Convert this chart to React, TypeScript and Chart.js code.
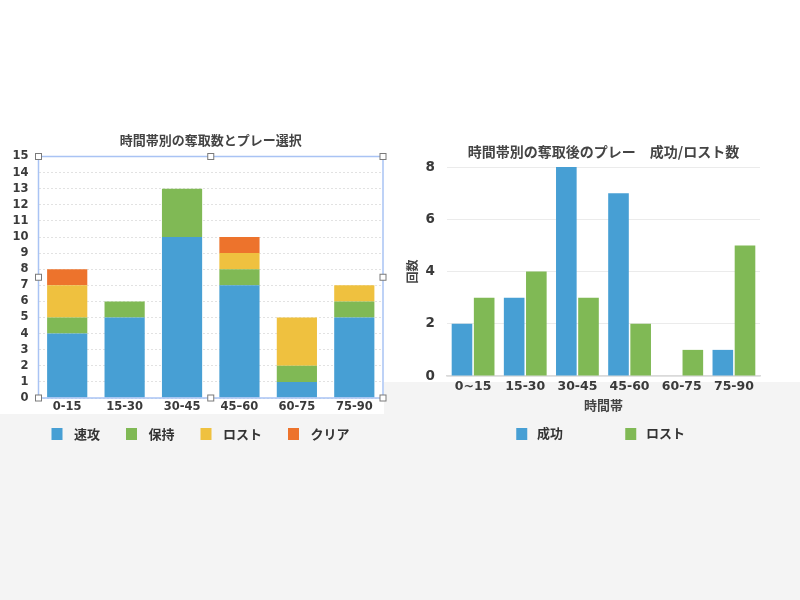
import React, { useEffect, useRef } from 'react';
import { Chart, registerables } from 'chart.js';

Chart.register(...registerables);

// ---------- data ----------
const leftTitle = '時間帯別の奪取数とプレー選択';
const leftCategories = ['0-15', '15-30', '30-45', '45–60', '60-75', '75-90'];
const leftSeriesNames = ['速攻', '保持', 'ロスト', 'クリア'];
const sokkou = [4, 5, 10, 7, 1, 5];
const hoji = [1, 1, 3, 1, 1, 1];
const lostLeft = [2, 0, 0, 1, 3, 1];
const clearVals = [1, 0, 0, 1, 0, 0];
const leftYMax = 15;
const leftYStep = 1;

const rightTitle = '時間帯別の奪取後のプレー　成功/ロスト数';
const rightCategories = ['0~15', '15-30', '30-45', '45-60', '60-75', '75-90'];
const rightSeriesNames = ['成功', 'ロスト'];
const success = [2, 3, 8, 7, 0, 1];
const lostRight = [3, 4, 3, 2, 1, 5];
const rightYMax = 8;
const rightYStep = 2;
const rightXTitle = '時間帯';
const rightYTitle = '回数';

// ---------- styles ----------
const BLUE = '#479fd4';
const GREEN = '#80b955';
const YELLOW = '#efc13f';
const ORANGE = '#ed732c';
const CJK = '"Noto Sans CJK JP", sans-serif';
const NUM = '"DejaVu Sans", "Noto Sans CJK JP", sans-serif';
const TEXT = '#3a3a3a';

function swatch(color: string, imgW: number, offset: number) {
  const c = document.createElement('canvas');
  c.width = imgW;
  c.height = 12;
  const g = c.getContext('2d')!;
  g.fillStyle = color;
  g.fillRect(offset, 0, 11, 12);
  return c;
}

const framePlugin = {
  id: 'selFrame',
  afterDraw(chart: any) {
    const { ctx, chartArea: a } = chart;
    ctx.save();
    ctx.strokeStyle = '#a9c3f4';
    ctx.lineWidth = 1.5;
    ctx.strokeRect(a.left, a.top, a.right - a.left, a.bottom - a.top);
    const mx = (a.left + a.right) / 2;
    const my = (a.top + a.bottom) / 2;
    const pts = [
      [a.left, a.top], [mx, a.top], [a.right, a.top],
      [a.left, my], [a.right, my],
      [a.left, a.bottom], [mx, a.bottom], [a.right, a.bottom],
    ];
    ctx.lineWidth = 1;
    ctx.fillStyle = '#ffffff';
    ctx.strokeStyle = '#7a7a7a';
    for (const [x, y] of pts) {
      ctx.fillRect(x - 3, y - 3, 6, 6);
      ctx.strokeRect(x - 3, y - 3, 6, 6);
    }
    ctx.restore();
  },
};

function leftConfig(): any {
  const colors = [BLUE, GREEN, YELLOW, ORANGE];
  const series = [sokkou, hoji, lostLeft, clearVals];
  const sw = colors.map((c) => swatch(c, 34, 18));
  return {
    type: 'bar',
    data: {
      labels: leftCategories,
      datasets: series.map((d, i) => ({
        label: leftSeriesNames[i],
        data: d,
        backgroundColor: colors[i],
        borderWidth: 0,
        barPercentage: 0.7,
        categoryPercentage: 1,
      })),
    },
    options: {
      responsive: false,
      animation: false,
      layout: { padding: { left: 0, right: 17, top: 0, bottom: 9.5 } },
      plugins: {
        title: {
          display: true,
          text: leftTitle,
          color: '#444',
          fullSize: false,
          font: { family: CJK, size: 13, weight: 'bold' },
          padding: { top: 12.2, bottom: 8.7 },
        },
        legend: {
          position: 'bottom',
          align: 'center',
          labels: {
            usePointStyle: true,
            pointStyleWidth: 34,
            padding: 8,
            color: '#333',
            font: { family: CJK, size: 13, weight: 'bold' },
            generateLabels: (chart: any) =>
              Chart.defaults.plugins.legend.labels
                .generateLabels(chart)
                .map((it: any, i: number) => ({ ...it, pointStyle: sw[i] })),
          },
        },
        tooltip: { enabled: false },
      },
      scales: {
        x: {
          stacked: true,
          grid: { display: false, drawTicks: false },
          border: { display: false },
          ticks: {
            color: TEXT,
            padding: 2.1,
            maxRotation: 0,
            autoSkip: false,
            font: { family: NUM, size: 11.5, weight: 'bold' },
          },
          afterFit: (s: any) => { s.height = 21.5; },
        },
        y: {
          stacked: true,
          min: 0,
          max: leftYMax,
          grid: { color: '#e2e2e2', drawTicks: false },
          border: { display: false, dash: [2, 2] },
          ticks: {
            stepSize: leftYStep,
            autoSkip: false,
            color: TEXT,
            padding: 10,
            font: { family: NUM, size: 11.5, weight: 'bold' },
          },
          afterFit: (s: any) => { s.width = 38.5; },
        },
      },
    },
    plugins: [framePlugin],
  };
}

function rightConfig(): any {
  const colors = [BLUE, GREEN];
  const series = [success, lostRight];
  const sw = colors.map((c) => swatch(c, 68, 54));
  return {
    type: 'bar',
    data: {
      labels: rightCategories,
      datasets: series.map((d, i) => ({
        label: rightSeriesNames[i],
        data: d,
        backgroundColor: colors[i],
        borderWidth: 0,
        barPercentage: 0.93,
        categoryPercentage: 0.85,
      })),
    },
    options: {
      responsive: false,
      animation: false,
      layout: { padding: { left: 7, right: 40, top: 0, bottom: 10 } },
      plugins: {
        title: {
          display: true,
          text: rightTitle,
          color: '#444',
          fullSize: false,
          font: { family: CJK, size: 14, weight: 'bold' },
          padding: { top: 13.6, bottom: 6.6 },
        },
        legend: {
          position: 'bottom',
          align: 'center',
          labels: {
            usePointStyle: true,
            pointStyleWidth: 68.5,
            padding: 8,
            color: '#333',
            font: { family: CJK, size: 13, weight: 'bold' },
            generateLabels: (chart: any) =>
              Chart.defaults.plugins.legend.labels
                .generateLabels(chart)
                .map((it: any, i: number) => ({ ...it, pointStyle: sw[i] })),
          },
        },
        tooltip: { enabled: false },
      },
      scales: {
        x: {
          grid: { display: false, drawTicks: false },
          border: { display: true, color: '#dadada', width: 1.5 },
          ticks: {
            color: TEXT,
            padding: 3.5,
            maxRotation: 0,
            autoSkip: false,
            font: { family: NUM, size: 12.5, weight: 'bold' },
          },
          title: {
            display: true,
            text: rightXTitle,
            color: '#444',
            font: { family: CJK, size: 13, weight: 'bold' },
            padding: { top: 0, bottom: 6.2 },
          },
          afterFit: (s: any) => { s.height = 43; },
        },
        y: {
          min: 0,
          max: rightYMax,
          grid: { color: '#ebebeb', drawTicks: false },
          border: { display: false },
          ticks: {
            stepSize: rightYStep,
            autoSkip: false,
            color: TEXT,
            padding: 12,
            font: { family: NUM, size: 13.5, weight: 'bold' },
          },
          title: {
            display: true,
            text: rightYTitle,
            color: '#444',
            font: { family: CJK, size: 12, weight: 'bold' },
            padding: { top: 17.8, bottom: 0 },
          },
          afterFit: (s: any) => { s.width = 60; },
        },
      },
    },
  };
}

function ChartBox(props: { left: number; top: number; width: number; height: number; make: () => any }) {
  const ref = useRef<HTMLCanvasElement | null>(null);
  useEffect(() => {
    if (!ref.current) return;
    const chart = new Chart(ref.current, props.make());
    return () => chart.destroy();
  }, []);
  return (
    <canvas
      ref={ref}
      width={props.width}
      height={props.height}
      style={{ position: 'absolute', left: props.left, top: props.top, width: props.width, height: props.height }}
    />
  );
}

export default function App() {
  return (
    <div style={{ position: 'fixed', left: 0, top: 0, width: 800, height: 600, background: '#f4f4f4', overflow: 'hidden' }}>
      <div style={{ position: 'absolute', left: 0, top: 0, width: 800, height: 382, background: '#ffffff' }} />
      <div style={{ position: 'absolute', left: 0, top: 382, width: 384, height: 32, background: '#ffffff' }} />
      <ChartBox left={0} top={120} width={400} height={340} make={leftConfig} />
      <ChartBox left={380} top={130} width={420} height={330} make={rightConfig} />
    </div>
  );
}
